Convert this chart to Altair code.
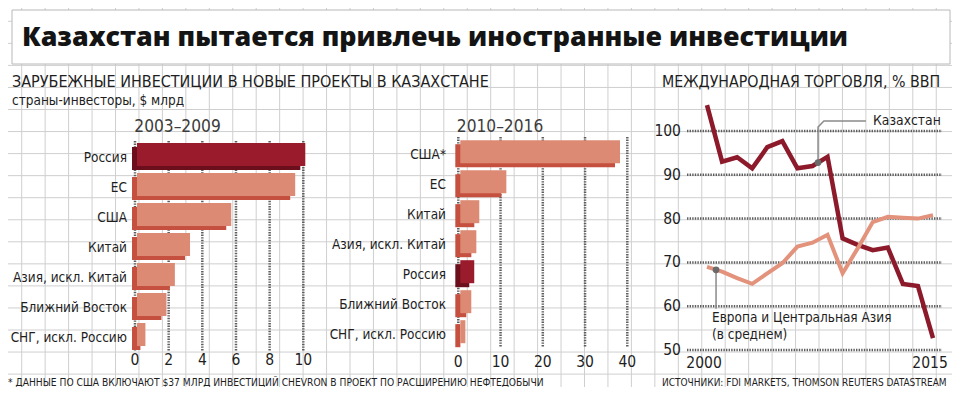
import altair as alt
import pandas as pd

# ---------------- data ----------------
cats_0309 = ["Россия", "ЕС", "США", "Китай", "Азия, искл. Китай", "Ближний Восток", "СНГ, искл. Россию"]
vals_0309 = [10.0, 9.4, 5.6, 3.15, 2.25, 1.75, 0.5]
cats_1016 = ["США*", "ЕС", "Китай", "Азия, искл. Китай", "Россия", "Ближний Восток", "СНГ, искл. Россию"]
vals_1016 = [37.8, 10.9, 4.5, 3.8, 3.3, 2.6, 1.2]
ticks_0309 = [0, 2, 4, 6, 8, 10]
ticks_1016 = [0, 10, 20, 30, 40]

years = [2000, 2001, 2002, 2003, 2004, 2005, 2006, 2007, 2008, 2009, 2010, 2011, 2012, 2013, 2014, 2015]
kaz = [105.9, 93.0, 94.0, 91.5, 96.3, 97.7, 91.5, 92.0, 94.1, 75.5, 74.0, 72.8, 73.4, 65.1, 64.6, 52.7]
eca = [69.0, 67.9, 66.4, 65.1, 67.5, 69.8, 73.6, 74.5, 76.3, 67.5, 73.2, 79.2, 80.4, 80.2, 80.0, 80.8]
trade_ticks = [50, 60, 70, 80, 90, 100]
year_labels = ["2000", "2015"]

title = "Казахстан пытается привлечь иностранные инвестиции"
sub_left = "ЗАРУБЕЖНЫЕ ИНВЕСТИЦИИ В НОВЫЕ ПРОЕКТЫ В КАЗАХСТАНЕ"
sub_left2 = "страны-инвесторы, $ млрд"
sub_right = "МЕЖДУНАРОДНАЯ ТОРГОВЛЯ, % ВВП"
panel1 = "2003–2009"
panel2 = "2010–2016"
note = "* ДАННЫЕ ПО США ВКЛЮЧАЮТ $37 МЛРД ИНВЕСТИЦИЙ CHEVRON В ПРОЕКТ ПО РАСШИРЕНИЮ НЕФТЕДОБЫЧИ"
sources = "ИСТОЧНИКИ: FDI MARKETS, THOMSON REUTERS DATASTREAM"
lab_kaz = "Казахстан"
lab_eca1 = "Европа и Центральная Азия"
lab_eca2 = "(в среднем)"

# ---------------- styling ----------------
M = 8  # page margin
NARROW = "'DejaVu Sans Condensed', 'Liberation Sans Narrow', sans-serif"
TXT = "#1e1e1e"
DARK_FACE, DARK_SIDE = "#9a1b2c", "#6c0f1d"
LIGHT_FACE, LIGHT_SIDE = "#dc8a74", "#c6503f"
KAZ_C, ECA_C = "#8c1a2b", "#e3927c"
GRID_C = "#cfcfcf"
DOT_C = "#5e5e5e"

one = pd.DataFrame({"a": [0]})

x1 = alt.Scale(domain=[0, 10], range=[135 - M, 303.3 - M], nice=False)
y1 = alt.Scale(domain=cats_0309, range=[141.5 - M, 351.5 - M], paddingInner=0.233, paddingOuter=0.1165)
x2 = alt.Scale(domain=[0, 40], range=[458.3 - M, 627.3 - M], nice=False)
y2 = alt.Scale(domain=cats_1016, range=[138.7 - M, 348.7 - M], paddingInner=0.233, paddingOuter=0.1165)
xl = alt.Scale(domain=[2000, 2015], range=[707 - M, 933 - M], nice=False)
yl = alt.Scale(domain=[50, 100], range=[350 - M, 131 - M], nice=False)

layers = []

# graph-paper background
vk = pd.DataFrame({"k": list(range(0, 41))})
hk = pd.DataFrame({"k": list(range(0, 18))})
layers.append(alt.Chart(vk).mark_rule(color=GRID_C, strokeWidth=1).encode(
    x=alt.X("k:Q", scale=alt.Scale(domain=[0, 40], range=[21.7 - M, 21.7 + 23.45 * 40 - M], nice=False), axis=None),
    y=alt.value(0), y2=alt.value(400)))
layers.append(alt.Chart(hk).mark_rule(color=GRID_C, strokeWidth=1).encode(
    y=alt.Y("k:Q", scale=alt.Scale(domain=[0, 17], range=[21.3 - M, 21.3 + 22.05 * 17 - M], nice=False), axis=None),
    x=alt.value(0), x2=alt.value(960)))

# title box
layers.append(alt.Chart(one).mark_rect(fill="white", stroke="#b8b8b8", strokeWidth=1).encode(
    x=alt.value(12 - M), x2=alt.value(950 - M), y=alt.value(10 - M), y2=alt.value(64 - M)))
layers.append(alt.Chart(one).mark_text(text=title, font="Open Sans", fontWeight=800, fontSize=26.8,
                                       color="#141414", align="left", baseline="alphabetic").encode(
    x=alt.value(22 - M), y=alt.value(46 - M)))


def label(txt, x, y, size, color=TXT, align="left", font=NARROW, weight="normal", baseline="alphabetic"):
    return alt.Chart(one).mark_text(text=txt, font=font, fontSize=size, color=color, align=align,
                                    fontWeight=weight, baseline=baseline).encode(
        x=alt.value(x - M), y=alt.value(y - M))


layers.append(label(sub_left, 12, 87, 16))
layers.append(label(sub_left2, 12, 105, 13.5))
layers.append(label(sub_right, 662, 87, 15.8))
layers.append(label(panel1, 177.5, 132, 17.2, color="#3c3c3c", align="center"))
layers.append(label(panel2, 500, 132, 17.2, color="#3c3c3c", align="center"))
layers.append(label(note, 8, 386, 10.2))
layers.append(label(sources, 662, 386, 10))


def bar_panel(cats, vals, ticks, xs, ys, top, bottom, label_x, tick_y):
    df = pd.DataFrame({"cat": cats, "val": vals})
    tdf = pd.DataFrame({"t": ticks})
    out = []
    out.append(alt.Chart(tdf).mark_rule(color=DOT_C, strokeWidth=2.5, strokeDash=[1.4, 1.2]).encode(
        x=alt.X("t:Q", scale=xs, axis=None), y=alt.value(top - M), y2=alt.value(bottom - M)))
    is_ru = alt.datum.cat == "Россия"
    out.append(alt.Chart(df).mark_bar(xOffset=-3, yOffset=2).encode(
        x=alt.X("val:Q", scale=xs, axis=None),
        y=alt.Y("cat:N", scale=ys, axis=None, sort=None),
        color=alt.condition(is_ru, alt.value(DARK_SIDE), alt.value(LIGHT_SIDE))))
    out.append(alt.Chart(df).mark_bar(xOffset=2, yOffset=-2).encode(
        x=alt.X("val:Q", scale=xs, axis=None),
        y=alt.Y("cat:N", scale=ys, axis=None, sort=None),
        color=alt.condition(is_ru, alt.value(DARK_FACE), alt.value(LIGHT_FACE))))
    out.append(alt.Chart(df).mark_text(font=NARROW, fontSize=13.5, color=TXT, align="right",
                                       baseline="middle", dy=1).encode(
        y=alt.Y("cat:N", scale=ys, axis=None, sort=None), x=alt.value(label_x - M), text="cat:N"))
    out.append(alt.Chart(tdf).mark_text(font=NARROW, fontSize=15.5, color=TXT, align="center",
                                        baseline="middle").encode(
        x=alt.X("t:Q", scale=xs, axis=None), y=alt.value(tick_y - M), text="t:Q"))
    return out


layers += bar_panel(cats_0309, vals_0309, ticks_0309, x1, y1, 141, 351, 127, 360)
layers += bar_panel(cats_1016, vals_1016, ticks_1016, x2, y2, 137, 347, 446, 362)

# line chart
tt = pd.DataFrame({"t": trade_ticks})
layers.append(alt.Chart(tt).mark_rule(color=DOT_C, strokeWidth=2.5, strokeDash=[1.4, 1.2]).encode(
    y=alt.Y("t:Q", scale=yl, axis=None), x=alt.value(687 - M), x2=alt.value(942 - M)))
layers.append(alt.Chart(tt).mark_text(font=NARROW, fontSize=15.5, color=TXT, align="right",
                                      baseline="middle").encode(
    y=alt.Y("t:Q", scale=yl, axis=None), x=alt.value(681 - M), text="t:Q"))
yd = pd.DataFrame({"yr": [years[0], years[-1]], "lab": year_labels})
layers.append(alt.Chart(yd).mark_text(font=NARROW, fontSize=15.5, color=TXT, align="center",
                                      baseline="middle", dx=-3).encode(
    x=alt.X("yr:Q", scale=xl, axis=None), y=alt.value(363 - M), text="lab:N"))

dl = pd.DataFrame({"year": years, "kaz": kaz, "eca": eca})
layers.append(alt.Chart(dl).mark_line(color=KAZ_C, strokeWidth=4.5).encode(
    x=alt.X("year:Q", scale=xl, axis=None), y=alt.Y("kaz:Q", scale=yl, axis=None)))
layers.append(alt.Chart(dl).mark_line(color=ECA_C, strokeWidth=4).encode(
    x=alt.X("year:Q", scale=xl, axis=None), y=alt.Y("eca:Q", scale=yl, axis=None)))

# annotations
lk = pd.DataFrame({"i": [0, 1, 2, 3], "x": [2007.37, 2007.37, 2007.76, 2010.55], "y": [92.8, 100.9, 102.3, 102.3]})
layers.append(alt.Chart(lk).mark_line(color="#8a8a8a", strokeWidth=1.5).encode(
    x=alt.X("x:Q", scale=xl, axis=None), y=alt.Y("y:Q", scale=yl, axis=None), order="i:O"))
le = pd.DataFrame({"i": [0, 1], "x": [2000.6, 2000.6], "y": [68.3, 59.4]})
layers.append(alt.Chart(le).mark_line(color="#8a8a8a", strokeWidth=1.5).encode(
    x=alt.X("x:Q", scale=xl, axis=None), y=alt.Y("y:Q", scale=yl, axis=None), order="i:O"))
dots = pd.DataFrame({"x": [2007.37, 2000.6], "y": [92.8, 68.3]})
layers.append(alt.Chart(dots).mark_point(filled=True, color="#6a6a6a", size=45, opacity=1).encode(
    x=alt.X("x:Q", scale=xl, axis=None), y=alt.Y("y:Q", scale=yl, axis=None)))
layers.append(label(lab_kaz, 873, 121, 13.8, baseline="middle"))
layers.append(label(lab_eca1, 712, 318, 13.5, baseline="middle"))
layers.append(label(lab_eca2, 712, 335, 13.5, baseline="middle"))

chart = alt.layer(*layers).resolve_scale(x="independent", y="independent").properties(
    width=944, height=379, autosize=alt.AutoSizeParams(type="none"), padding=0, background="white"
).configure_view(stroke=None)

chart.save("out.html", embed_options={"renderer": "svg", "actions": False})
